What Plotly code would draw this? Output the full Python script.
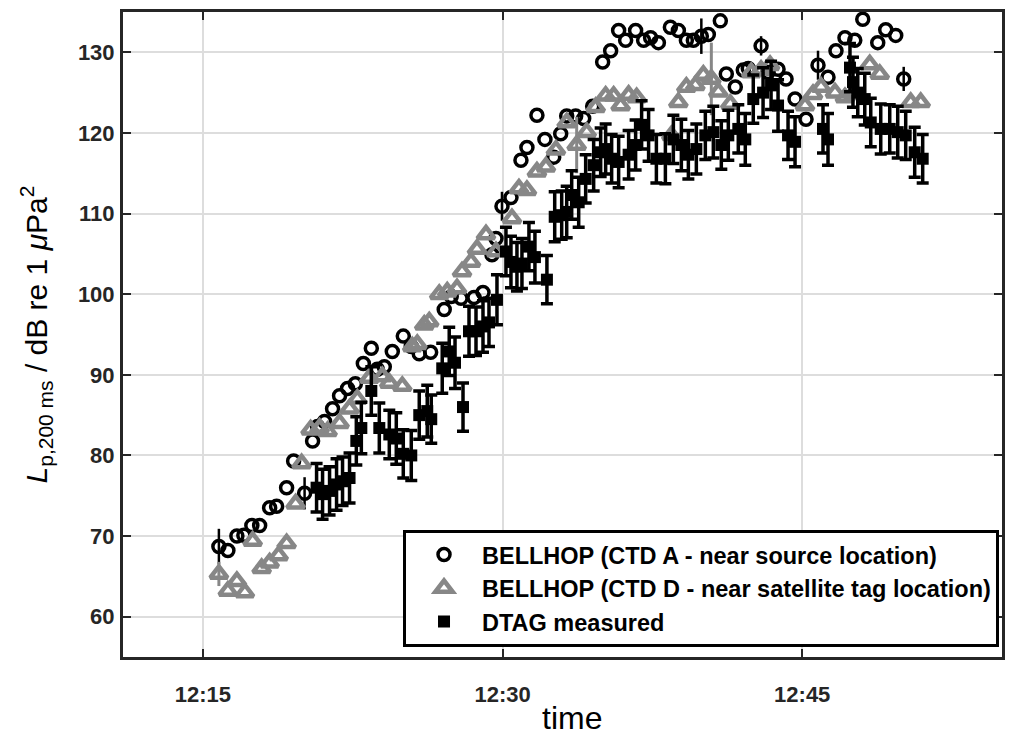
import pandas as pd
import plotly.graph_objects as go

# Clock time of each sample, as minutes after 12:00
ctd_a_min = [15.80, 16.25, 16.70, 17.05, 17.45, 17.84, 18.34, 18.69, 19.19, 19.54,
             20.09, 20.49, 20.74, 21.09, 21.49, 21.84, 22.24, 22.63, 23.03, 23.43,
             23.73, 24.08, 24.48, 25.03, 25.43, 25.83, 26.40, 27.08, 27.43, 27.92,
             28.57, 29.02, 29.47, 29.67, 29.97, 30.42, 30.92, 31.22, 31.72, 32.12,
             32.56, 32.91, 33.21, 33.66, 34.06, 34.51, 35.01, 35.41, 35.81, 36.16,
             36.66, 37.06, 37.41, 37.80, 38.40, 38.80, 39.20, 39.55, 39.95, 40.30,
             40.90, 41.20, 41.65, 42.05, 42.30, 42.94, 43.29, 43.79, 44.19, 44.64,
             45.19, 45.79, 46.29, 46.69, 47.14, 47.63, 48.03, 48.78, 49.18, 49.68,
             50.08]
ctd_a_db = [68.7, 68.2, 70.0, 70.1, 71.3, 71.3, 73.5, 73.7, 76.0, 79.3,
            75.3, 81.8, 83.6, 84.2, 85.8, 87.4, 88.3, 88.9, 91.4, 93.3,
            90.7, 91.0, 92.9, 94.8, 93.5, 92.6, 92.8, 98.1, 99.7, 99.5,
            99.6, 100.2, 104.9, 106.9, 110.9, 112.0, 116.6, 118.2, 122.2, 119.2,
            117.0, 119.9, 122.1, 122.1, 121.8, 123.3, 128.8, 130.2, 132.7, 131.5,
            132.7, 131.5, 131.8, 131.2, 133.1, 132.7, 131.5, 131.5, 132.0, 132.2,
            133.9, 127.3, 125.7, 127.8, 128.0, 130.8, 127.5, 127.9, 126.7, 124.2,
            121.7, 128.4, 126.9, 130.2, 131.8, 131.5, 134.1, 131.2, 132.8, 132.1,
            126.7]
ctd_a_err = [2.2, 0, 0, 0, 0, 0, 0, 0, 0, 0,
             2.0, 0, 0, 0, 0, 0, 0, 0, 0, 0,
             0, 0, 0, 0, 0, 0, 0, 0, 0, 0,
             0, 0, 0, 0, 1.8, 0, 0, 0, 0, 0,
             0, 0, 0, 0, 0, 0, 0, 0, 0, 0,
             0, 0, 0, 0, 0, 0, 0, 0, 2.2, 0,
             0, 0, 0, 0, 0, 1.2, 0, 0, 0, 0,
             0, 1.8, 0, 0, 0, 0, 0, 0, 0, 0,
             1.5]

ctd_d_min = [15.80, 16.25, 16.70, 17.10, 17.49, 17.94, 18.34, 18.79, 19.19, 19.64,
             19.94, 20.39, 20.84, 21.24, 21.84, 22.34, 22.73, 23.33, 23.98, 24.33,
             24.98, 25.48, 25.73, 26.08, 26.33, 26.83, 27.23, 27.72, 27.97, 28.42,
             28.72, 29.17, 29.67, 30.47, 30.82, 31.22, 31.72, 32.17, 32.67, 33.21,
             33.71, 34.21, 34.66, 35.16, 35.56, 35.91, 36.31, 36.71, 38.45, 38.80,
             39.20, 39.65, 40.05, 40.45, 40.80, 41.40, 42.45, 42.94, 43.39, 45.14,
             45.54, 45.94, 46.64, 47.14, 47.54, 48.38, 48.88, 50.43, 50.93]
ctd_d_db = [65.3, 63.2, 64.4, 63.0, 69.4, 66.0, 66.7, 67.6, 69.1, 74.0,
            79.0, 83.2, 83.4, 83.0, 84.0, 85.8, 87.0, 89.6, 89.8, 89.0,
            88.6, 93.5, 93.8, 96.2, 96.6, 100.0, 100.3, 100.7, 102.8, 104.0,
            105.6, 107.4, 105.3, 109.4, 113.1, 112.9, 115.2, 115.8, 117.9, 121.3,
            118.5, 120.1, 123.2, 124.6, 124.6, 123.4, 124.7, 124.4, 119.7, 123.8,
            125.7, 125.9, 127.2, 126.7, 125.1, 123.6, 127.5, 127.8, 128.4, 123.4,
            124.8, 125.7, 125.0, 124.4, 124.8, 128.5, 127.3, 123.8, 123.8]
ctd_d_err = [1.5, 0, 0, 0, 0, 0, 0, 0, 0, 0,
             0, 0, 0, 0, 0, 0, 0, 0, 0, 0,
             0, 0, 0, 0, 0, 0, 0, 0, 0, 0,
             0, 0, 0, 0, 0, 0, 0, 0, 0, 0,
             3.5, 0, 0, 0, 0, 0, 0, 0, 0, 0,
             0, 0, 0, 4.5, 0, 0, 0, 0, 0, 0,
             0, 0, 0, 0, 0, 0, 0, 0, 0]

dtag_min = [20.69, 20.99, 21.34, 21.69, 21.99, 22.34, 22.68, 22.93, 23.43, 23.83,
            24.33, 24.68, 25.03, 25.43, 25.83, 26.23, 26.43, 26.98, 27.33, 27.62,
            28.02, 28.32, 28.67, 29.02, 29.32, 29.72, 30.17, 30.42, 30.72, 30.97,
            31.32, 31.62, 32.22, 32.61, 32.96, 33.21, 33.46, 33.81, 34.16, 34.56,
            34.91, 35.16, 35.46, 35.81, 36.31, 36.66, 36.96, 37.31, 37.70, 38.15,
            38.55, 38.95, 39.30, 39.70, 40.15, 40.55, 40.95, 41.30, 41.80, 42.15,
            42.55, 43.04, 43.44, 43.79, 44.29, 44.64, 46.04, 46.29, 47.39, 47.54,
            47.78, 48.13, 48.43, 48.93, 49.38, 49.78, 50.18, 50.63, 51.03]
dtag_db = [76.0, 75.2, 75.6, 76.4, 76.8, 77.2, 81.8, 83.4, 88.0, 83.4,
           82.6, 82.1, 80.2, 80.0, 85.0, 85.5, 84.5, 90.8, 92.9, 91.5,
           86.0, 95.4, 95.4, 96.0, 96.5, 99.3, 105.3, 104.0, 103.4, 103.8,
           105.9, 104.6, 101.8, 109.6, 109.8, 110.2, 112.3, 111.4, 114.3, 116.0,
           117.6, 118.0, 116.8, 116.4, 117.3, 118.5, 121.0, 119.7, 116.8, 116.8,
           119.2, 118.5, 117.3, 118.0, 119.7, 120.1, 118.5, 119.7, 120.5, 119.2,
           124.2, 125.0, 125.9, 123.4, 119.7, 118.9, 120.5, 119.2, 128.1, 126.3,
           125.0, 124.2, 121.3, 120.5, 120.5, 120.1, 119.7, 117.6, 116.8]
dtag_err = [3.0, 3.1, 3.0, 3.2, 3.0, 3.1, 3.0, 3.2, 3.0, 3.1,
            3.0, 3.2, 3.0, 3.1, 3.0, 3.2, 3.0, 3.1, 3.0, 3.2,
            3.0, 3.1, 3.0, 3.2, 3.0, 3.1, 3.0, 3.2, 3.0, 3.1,
            3.0, 3.2, 3.0, 3.1, 3.0, 3.2, 3.0, 3.1, 3.0, 3.2,
            3.0, 3.1, 3.0, 3.2, 3.0, 3.1, 3.0, 3.2, 3.0, 3.1,
            3.0, 3.2, 3.0, 3.1, 3.0, 3.2, 3.0, 3.1, 3.0, 3.2,
            3.0, 3.1, 3.0, 3.2, 3.0, 3.1, 3.0, 3.2, 3.0, 3.1,
            3.0, 3.2, 3.0, 3.1, 3.0, 3.2, 3.0, 3.1, 3.0]

x_ticks = ["12:15", "12:30", "12:45"]
y_ticks = [60, 70, 80, 90, 100, 110, 120, 130]

DAY = "2016-01-01 "


def to_time(minutes):
    base = pd.Timestamp(DAY + "12:00:00")
    return [base + pd.Timedelta(minutes=m) for m in minutes]


INK = "#262626"
GRAY = "#878787"
FONT = "Liberation Sans"

fig = go.Figure()

fig.add_trace(go.Scatter(
    x=to_time(ctd_a_min), y=ctd_a_db, mode="markers",
    name="BELLHOP (CTD A - near source location)",
    marker=dict(symbol="circle-open", size=12, color="black", line=dict(width=3.5, color="black")),
    error_y=dict(type="data", array=ctd_a_err, color="black", thickness=2.5, width=0),
))
fig.add_trace(go.Scatter(
    x=to_time(ctd_d_min), y=ctd_d_db, mode="markers",
    name="BELLHOP (CTD D - near satellite tag location)",
    marker=dict(symbol="triangle-up-open", size=15, color=GRAY, line=dict(width=4.5, color=GRAY)),
    error_y=dict(type="data", array=ctd_d_err, color=GRAY, thickness=3, width=0),
))
fig.add_trace(go.Scatter(
    x=to_time(dtag_min), y=dtag_db, mode="markers",
    name="DTAG measured",
    marker=dict(symbol="square", size=12, color="black", line=dict(width=0)),
    error_y=dict(type="data", array=dtag_err, color="black", thickness=3.5, width=6),
))

axis_common = dict(
    showline=True, linecolor=INK, linewidth=3, mirror="ticks",
    ticks="inside", ticklen=8, tickwidth=2, tickcolor=INK,
    showgrid=True, gridcolor="#dddddd", gridwidth=2,
    zeroline=False,
    tickfont=dict(family=FONT, size=22, color=INK, weight="bold"),
)

fig.update_xaxes(
    **axis_common,
    type="date",
    range=[DAY + "12:11:00", DAY + "12:55:00"],
    tickvals=[DAY + t + ":00" for t in x_ticks],
    ticktext=x_ticks,
    ticklabelstandoff=16,
)
fig.update_yaxes(
    **axis_common,
    range=[55, 135],
    tickvals=y_ticks,
    ticklabelstandoff=1,
    title=dict(
        text="<i>L</i><sub>p,200 ms</sub> / dB re 1 <i>μ</i>Pa<sup>2</sup>",
        font=dict(family=FONT, size=30, color="black"), standoff=22,
    ),
)

# x-axis label placed just below the tick labels
fig.add_annotation(
    text="time", xref="paper", yref="paper", x=0.511, y=-0.094,
    xanchor="center", yanchor="middle", showarrow=False,
    font=dict(family=FONT, size=32, color="black"),
)

fig.update_layout(
    width=1014, height=738,
    margin=dict(l=123, r=9, t=10, b=81),
    paper_bgcolor="white", plot_bgcolor="white",
    showlegend=True,
    legend=dict(
        x=0.9966, y=0.016, xanchor="right", yanchor="bottom",
        bgcolor="white", bordercolor="black", borderwidth=3,
        font=dict(family=FONT, size=23.5, color="black", weight="bold"),
        itemwidth=66,
    ),
)

fig.write_html("out.html")
